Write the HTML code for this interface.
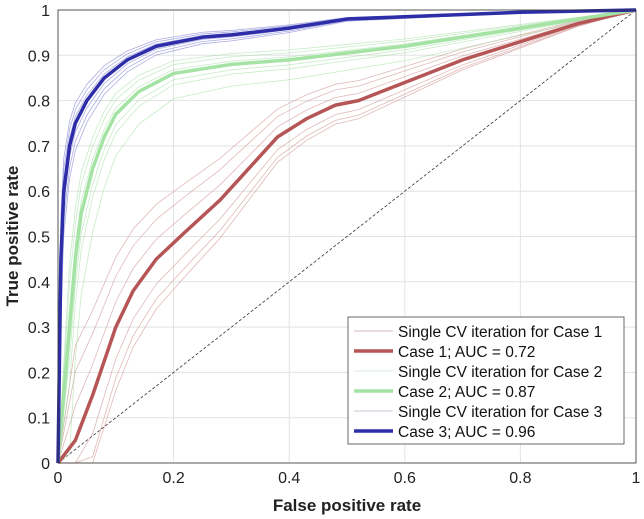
<!DOCTYPE html>
<html><head><meta charset="utf-8"><style>
body{margin:0;background:#fff;}
svg{display:block;font-family:"Liberation Sans",Arial,sans-serif;}
</style></head><body>
<svg id="chart" width="644" height="519">
  <g id="grid"></g>
  <g id="thin"></g>
  <g id="main"></g>
  <rect x="58" y="10" width="578" height="453" fill="none" stroke="#333" stroke-width="0.8"/>
  <g id="ticks" font-size="16" fill="#222"></g>
  <text x="347" y="511" font-size="17" font-weight="bold" text-anchor="middle" fill="#222">False positive rate</text>
  <text transform="translate(18,236) rotate(-90)" font-size="17" font-weight="bold" text-anchor="middle" fill="#222">True positive rate</text>
  <g id="legend">
    <rect x="348" y="317" width="276" height="127" fill="#fff" stroke="#444" stroke-width="0.8"/>
  </g>
</svg>
<script>
const ticks=[0,0.1,0.2,0.3,0.4,0.5,0.6,0.7,0.8,0.9,1];
const xticks=[0,0.2,0.4,0.6,0.8,1];
const x3=[0,0.005,0.01,0.02,0.03,0.05,0.08,0.12,0.17,0.25,0.3,0.4,0.5,0.6,0.8,1];
const y3=[0,0.45,0.6,0.7,0.75,0.8,0.85,0.89,0.92,0.94,0.945,0.96,0.98,0.985,0.995,1];
const x2=[0,0.02,0.03,0.04,0.06,0.08,0.1,0.14,0.2,0.3,0.4,0.5,0.6,0.8,1];
const y2=[0,0.3,0.45,0.55,0.65,0.72,0.77,0.82,0.86,0.88,0.89,0.905,0.92,0.96,1];
const x1=[0,0.03,0.06,0.1,0.13,0.17,0.22,0.28,0.33,0.38,0.43,0.48,0.52,0.6,0.7,0.8,0.9,1];
const y1=[0,0.05,0.15,0.3,0.38,0.45,0.51,0.58,0.65,0.72,0.76,0.79,0.8,0.84,0.89,0.93,0.97,1];
const cvOffsets3=[0.06,-0.08,0.03,-0.04,0.09,-0.12];
const cvOffsets2=[0.07,-0.09,0.03,-0.05,0.1,-0.2];
const cvOffsets1=[0.08,-0.08,0.04,-0.05,0.11,-0.1];
const X=v=>58+v*578, Y=v=>463-v*453;
const NS="http://www.w3.org/2000/svg";
function mk(t,a,p){const e=document.createElementNS(NS,t);for(const k in a)e.setAttribute(k,a[k]);p.appendChild(e);return e;}
const grid=document.getElementById('grid'),tk=document.getElementById('ticks');
ticks.forEach(v=>{
  const l=mk('line',{x1:58,x2:636,y1:Y(v),y2:Y(v),stroke:'#e3e3e3','stroke-width':1},grid);
  
  
  const t=mk('text',{x:50,y:Y(v)+6,'text-anchor':'end'},tk);t.textContent=String(v);
  
  
});
xticks.forEach(v=>{
  const l=mk('line',{x1:X(v),x2:X(v),y1:10,y2:463,stroke:'#e3e3e3','stroke-width':1},grid);
  
  
  const t=mk('text',{x:X(v),y:483,'text-anchor':'middle'},tk);t.textContent=String(v);
  
  
});
const diag=mk('line',{x1:X(0),y1:Y(0),x2:X(1),y2:Y(1),stroke:'#333','stroke-width':0.8,'stroke-dasharray':'3,2'},grid);


function pts(xs,ys,o){return xs.map((x,i)=>{let y=ys[i];if(i>0&&i<xs.length-1)y=Math.max(0,Math.min(1,y+o*(1-y)*2));return X(x)+','+Y(y);}).join(' ');}
const thin=document.getElementById('thin'),main=document.getElementById('main');
[[x1,y1,cvOffsets1,'#c98080'],[x2,y2,cvOffsets2,'#9bdc9b'],[x3,y3,cvOffsets3,'#6a6ad0']].forEach(([xs,ys,offs,c],k)=>{
  offs.forEach(o=>{const p=mk('polyline',{points:pts(xs,ys,o),fill:'none',stroke:c,'stroke-width':0.8,opacity:0.55},thin);
    
    });
});
[[x1,y1,'#b55555',1],[x2,y2,'#a4e3a4',2],[x3,y3,'#2d2da8',3]].forEach(([xs,ys,c,n])=>{
  const p=mk('polyline',{points:pts(xs,ys,0),fill:'none',stroke:c,'stroke-width':3.5,'stroke-linejoin':'round'},main);
  
  
});
const lg=document.getElementById('legend');
const items=[['Single CV iteration for Case 1','#d8b8b8',1],['Case 1; AUC = 0.72','#b55555',3.5],['Single CV iteration for Case 2','#d8ecd8',1],['Case 2; AUC = 0.87','#a4e3a4',3.5],['Single CV iteration for Case 3','#c8c8d8',1],['Case 3; AUC = 0.96','#2d2da8',3.5]];
items.forEach((it,i)=>{const y=331+i*20;
  const l=mk('line',{x1:354,x2:393,y1:y,y2:y,stroke:it[1],'stroke-width':it[2]},lg);
  
  
  const t=mk('text',{x:398,y:y+6,'font-size':15.5,fill:'#111'},lg);t.textContent=it[0];
  
  
});
</script>
</body></html>
